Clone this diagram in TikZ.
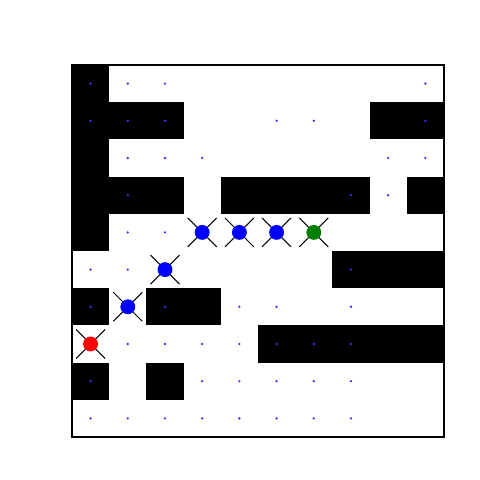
\documentclass[tikz,border=0pt]{standalone}
\usetikzlibrary{shapes.misc}
\begin{document}
\begin{tikzpicture}
  [x=1cm,y=1cm,
   wall/.style={fill=black},
   dot/.style={circle,fill=blue!80,inner sep=0pt,minimum size=0.7mm},
   mark cross/.style={draw=black,cross out,line width=0.8pt,inner sep=0pt,minimum size=0.75cm},
   agent/.style={circle,fill=blue,inner sep=0pt,minimum size=4mm}]
  \useasboundingbox (-1.935,-1.156) rectangle (10.968,11.747);

  % walls (column/row, rows counted from the top)
  \foreach \c/\r in {0/0,0/1,1/1,2/1,8/1,9/1,0/2,0/3,1/3,2/3,4/3,5/3,6/3,7/3,9/3,
                     0/4,7/5,8/5,9/5,0/6,2/6,3/6,5/7,6/7,7/7,8/7,9/7,0/8,2/8}
    \fill[wall] (\c,{9-\r}) rectangle ++(1,1);

  % visited points
  \foreach \c/\r in {0/0,1/0,2/0,9/0,
                     0/1,1/1,2/1,5/1,6/1,9/1,
                     1/2,2/2,3/2,8/2,9/2,
                     1/3,7/3,8/3,
                     1/4,2/4,
                     0/5,1/5,7/5,
                     0/6,2/6,4/6,5/6,7/6,
                     1/7,2/7,3/7,4/7,5/7,6/7,7/7,
                     0/8,3/8,4/8,5/8,6/8,7/8,
                     0/9,1/9,2/9,3/9,4/9,5/9,6/9,7/9}
    \node[dot] (d\c\r) at ({\c+0.5},{9.5-\r}) {};

  % robots
  \foreach \name/\c/\r/\col in {s/0/7/red, a1/1/6/blue, a2/2/5/blue, a3/3/4/blue,
                                a4/4/4/blue, a5/5/4/blue, g/6/4/green!50!black}
  {
    \node[mark cross] (x\name) at ({\c+0.5},{9.5-\r}) {};
    \node[agent,fill=\col] (\name) at (x\name) {};
  }

  \draw[line width=0.8pt] (0,0) rectangle (10,10);
\end{tikzpicture}
\end{document}
